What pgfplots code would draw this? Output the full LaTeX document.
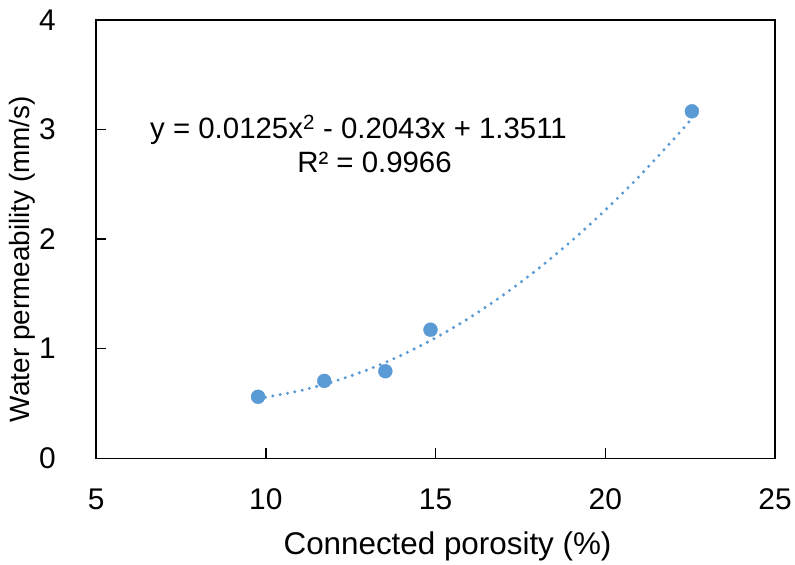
\documentclass[border=0pt]{standalone}
\usepackage{fontspec}
\setmainfont{Liberation Sans}
\usepackage{pgfplots}
\pgfplotsset{compat=1.18}
\definecolor{xblue}{HTML}{5B9BD5}
\begin{document}
\begin{tikzpicture}
\begin{axis}[
 width=681.5pt, height=440pt, scale only axis,
 xmin=5, xmax=25, ymin=0, ymax=4,
 xtick={5,10,15,20,25}, ytick={0,1,2,3,4},
 tick align=inside, xtick pos=bottom, ytick pos=left,
 major tick length=10pt,
 axis line style={line width=1.5pt}, tick style={line width=1.5pt, black},
 /pgf/number format/assume math mode=true,
 ticklabel style={font=\fontsize{30}{32}\selectfont},
 xticklabel style={yshift=-27pt},
 yticklabel style={xshift=-37pt},
 xlabel={Connected porosity (\%)}, ylabel={Water permeability (mm/s)},
 xlabel style={font=\fontsize{31.5}{33}\selectfont, yshift=-15pt, xshift=12pt},
 ylabel style={font=\fontsize{28}{30}\selectfont, yshift=-3pt, xshift=-20pt},
]
\addplot[xblue, line width=3.4pt, dash pattern=on 0pt off 7.5pt, line cap=round, smooth] coordinates {
 (9.77,0.548) (10,0.558) (11,0.616) (12,0.700) (13,0.808) (14,0.941) (15,1.099) (16,1.282)
 (17,1.491) (18,1.724) (19,1.982) (20,2.265) (21,2.573) (22,2.907) (22.55,3.100)};
\addplot[only marks, mark=*, mark size=7pt, xblue, mark options={draw=xblue, fill=xblue}] coordinates {
 (9.77,0.561) (11.72,0.706) (13.52,0.794) (14.85,1.173) (22.55,3.166)};
\node[font=\fontsize{29.5}{32}\selectfont, inner sep=0pt] at (axis cs:12.73,3.0) {y = 0.0125x\textsuperscript{2} - 0.2043x + 1.3511};
\node[font=\fontsize{29.5}{32}\selectfont, inner sep=0pt] at (axis cs:13.2,2.7) {R² = 0.9966};
\end{axis}
\path ([xshift=-96.5pt,yshift=-101pt]current axis.south west) rectangle ([xshift=17pt,yshift=20pt]current axis.north east);
\end{tikzpicture}
\end{document}
